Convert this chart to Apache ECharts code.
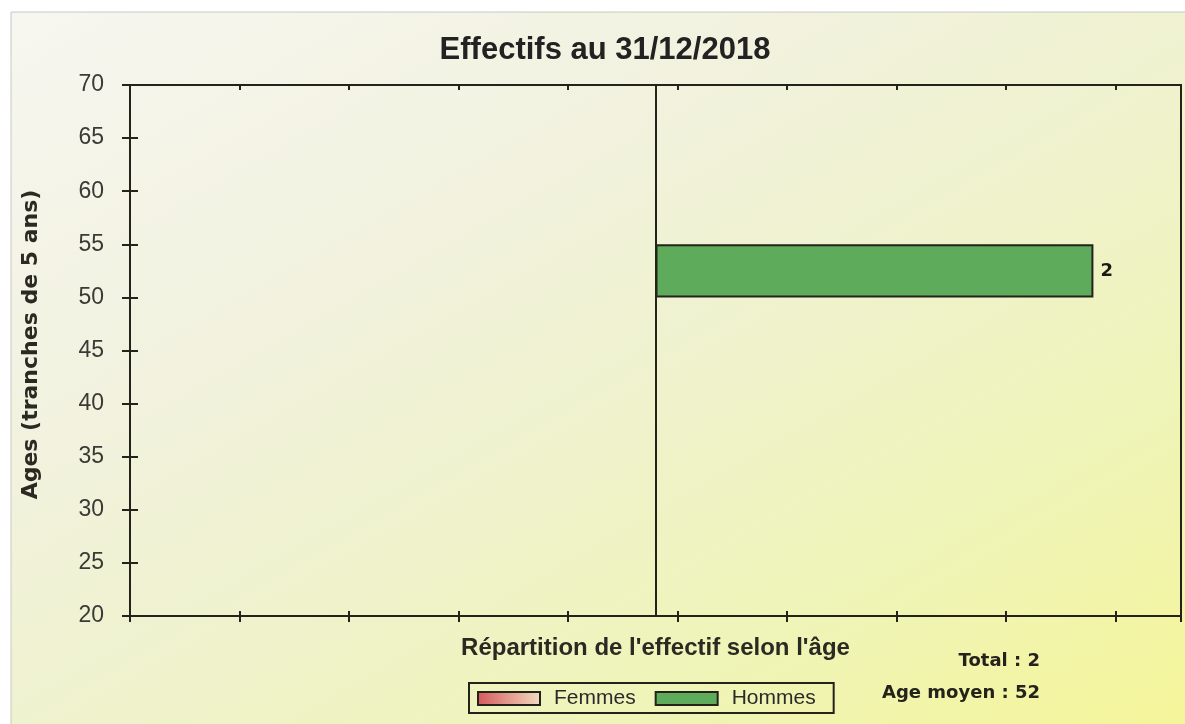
<!DOCTYPE html>
<html>
<head>
<meta charset="utf-8">
<script src="https://cdn.jsdelivr.net/npm/echarts@6/dist/echarts.min.js"></script>
<style>
  html, body { margin: 0; padding: 0; background: #ffffff; }
  #chart { width: 1185px; height: 724px; }
</style>
</head>
<body>
<div id="chart"></div>
<script>
// Age bands (5-year slices), bottom to top
const ageBands = ['20-24', '25-29', '30-34', '35-39', '40-44', '45-49', '50-54', '55-59', '60-64', '65-69'];
// Head count per band
const femmes = [0, 0, 0, 0, 0, 0, 0, 0, 0, 0];
const hommes = [0, 0, 0, 0, 0, 0, 2, 0, 0, 0];
// Age axis ticks
const ageMin = 20;
const ageMax = 70;
const ageStep = 5;
// Summary figures
const ageMoyen = 52;
const titre = 'Effectifs au 31/12/2018';

const total = femmes.reduce((a, b) => a + b, 0) + hommes.reduce((a, b) => a + b, 0);
const ink = '#23231c';

// Women go on the left (negative side), men on the right
const femmesData = femmes.map(v => (v ? -v : null));
const hommesData = hommes.map(v => (v ? v : null));

const chart = echarts.init(document.getElementById('chart'), null, { renderer: 'canvas' });

const baseX = {
  type: 'value', min: -2.4, max: 2.4, interval: 0.5,
  splitLine: { show: false }, axisLabel: { show: false }
};
const baseY = {
  type: 'value', min: ageMin, max: ageMax, interval: ageStep,
  splitLine: { show: false }
};

chart.setOption({
  backgroundColor: '#ffffff',
  animation: false,
  graphic: [{
    type: 'rect', z: -10, silent: true,
    shape: { x: 11, y: 12, width: 1185, height: 724 },
    style: {
      fill: new echarts.graphic.LinearGradient(0, 0, 0.512, 1.464, [
        { offset: 0, color: '#f7f6f0' },
        { offset: 0.3, color: '#f2f2e0' },
        { offset: 0.5, color: '#eff2cf' },
        { offset: 0.75, color: '#eff4b8' },
        { offset: 1, color: '#f5f597' }
      ]),
      stroke: '#c8c8c4', lineWidth: 1
    }
  }, {
    type: 'text', right: 1185 - 1040, top: 652,
    style: { text: 'Total : ' + total, font: 'bold 18px "DejaVu Sans"', fill: ink, textAlign: 'right' }
  }, {
    type: 'text', right: 1185 - 1040, top: 684,
    style: { text: 'Age moyen : ' + ageMoyen, font: 'bold 18px "DejaVu Sans"', fill: ink, textAlign: 'right' }
  }],
  title: {
    text: titre, left: 600, top: 30, textAlign: 'center',
    textStyle: { fontFamily: 'Liberation Sans', fontWeight: 'bold', fontSize: 31, color: '#222' }
  },
  legend: {
    data: ['Femmes', 'Hommes'],
    left: 469, top: 683,
    borderColor: ink, borderWidth: 2, borderRadius: 0,
    padding: [5, 18, 4, 8],
    itemWidth: 62, itemHeight: 13, itemGap: 19,
    icon: 'rect',
    textStyle: { fontFamily: 'Liberation Sans', fontSize: 21, color: '#2a2a2a', padding: [0, 0, 0, 9] }
  },
  grid: {
    left: 130, top: 85, right: 4, bottom: 108,
    show: true, borderColor: ink, borderWidth: 2, backgroundColor: 'transparent'
  },
  xAxis: [
    Object.assign({}, baseX, {
      position: 'bottom',
      axisLine: { show: true, onZero: false, lineStyle: { color: ink, width: 2 } },
      axisTick: { show: true, inside: false, length: 6, lineStyle: { color: ink, width: 2 } },
      name: "Répartition de l'effectif selon l'âge",
      nameLocation: 'middle', nameGap: 20,
      nameTextStyle: { fontFamily: 'Liberation Sans', fontWeight: 'bold', fontSize: 24, color: '#2a2a22' }
    }),
    Object.assign({}, baseX, {
      position: 'bottom',
      axisLine: { show: false, onZero: false },
      axisTick: { show: true, inside: true, length: 5, lineStyle: { color: ink, width: 2 } }
    }),
    Object.assign({}, baseX, {
      position: 'top',
      axisLine: { show: false, onZero: false },
      axisTick: { show: true, inside: true, length: 5, lineStyle: { color: ink, width: 2 } }
    })
  ],
  yAxis: [
    Object.assign({}, baseY, {
      position: 'left',
      axisLine: { show: true, onZero: false, lineStyle: { color: ink, width: 2 } },
      axisTick: { show: true, inside: false, length: 8, lineStyle: { color: ink, width: 2 } },
      axisLabel: { margin: 26, fontFamily: 'Liberation Sans', fontSize: 23, color: '#3a3a36' },
      name: 'Ages (tranches de 5 ans)',
      nameLocation: 'middle', nameGap: 88, nameRotate: 90,
      nameTextStyle: { fontFamily: 'DejaVu Sans', fontWeight: 'bold', fontSize: 22, color: '#2a2a22', padding: [0, 0, 0, 12] }
    }),
    Object.assign({}, baseY, {
      position: 'left',
      axisLine: { show: false, onZero: false },
      axisTick: { show: true, inside: true, length: 8, lineStyle: { color: ink, width: 2 } },
      axisLabel: { show: false }
    }),
    {
      type: 'category', data: ageBands, position: 'left',
      axisLine: { onZero: false },
      show: false
    }
  ],
  series: [
    {
      name: 'Femmes', type: 'bar', xAxisIndex: 0, yAxisIndex: 2,
      stack: 'pyramide', barCategoryGap: 0, barGap: '-100%',
      data: femmesData,
      itemStyle: {
        color: new echarts.graphic.LinearGradient(0, 0, 1, 0, [
          { offset: 0, color: '#d4585e' },
          { offset: 1, color: '#f3dcc0' }
        ]),
        borderColor: ink, borderWidth: 2
      },
      label: {
        show: true, position: 'left', distance: 6,
        formatter: p => Math.abs(p.value),
        fontFamily: 'DejaVu Sans', fontWeight: 'bold', fontSize: 18, color: '#1a1a14'
      }
    },
    {
      name: 'Hommes', type: 'bar', xAxisIndex: 0, yAxisIndex: 2,
      stack: 'pyramide', barCategoryGap: 0, barGap: '-100%',
      data: hommesData,
      itemStyle: { color: '#5dab5b', borderColor: ink, borderWidth: 2 },
      label: {
        show: true, position: 'right', distance: 7,
        fontFamily: 'DejaVu Sans', fontWeight: 'bold', fontSize: 18, color: '#1a1a14'
      },
      markLine: {
        silent: true, symbol: 'none', animation: false,
        label: { show: false },
        lineStyle: { color: ink, width: 2, type: 'solid' },
        data: [{ xAxis: 0 }]
      }
    }
  ]
});
</script>
</body>
</html>
